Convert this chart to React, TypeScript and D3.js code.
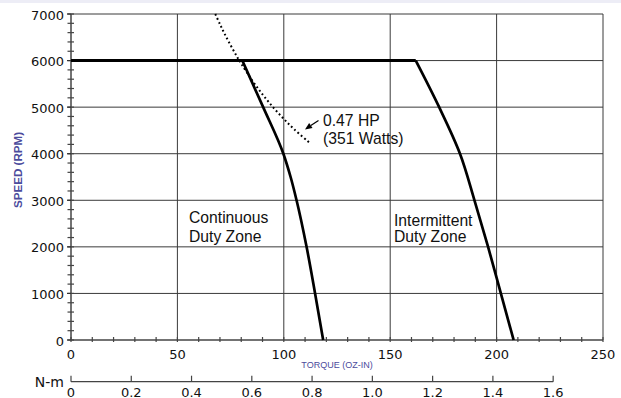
import React from "react";
import * as d3 from "d3";

// Axis ticks
const speedTicks = [0, 1000, 2000, 3000, 4000, 5000, 6000, 7000];
const torqueTicks = [0, 50, 100, 150, 200, 250];
const nmTicks = [0, 0.2, 0.4, 0.6, 0.8, 1.0, 1.2, 1.4, 1.6];
const nmTickLabels = ["0", "0.2", "0.4", "0.6", "0.8", "1.0", "1.2", "1.4", "1.6"];

// Speed limit line (oz-in, rpm)
const limitTorque = [0, 162];
const limitSpeed = [6000, 6000];

// Continuous duty boundary
const continuousTorque = [80.5, 90.3, 99.8, 103.2, 106, 110.7, 114.7, 118.5];
const continuousSpeed = [6000, 5000, 4000, 3500, 3000, 2000, 1000, 0];

// Intermittent duty boundary
const intermittentTorque = [162, 173, 182.8, 189.6, 196, 202, 208];
const intermittentSpeed = [6000, 5000, 4000, 3000, 2000, 1000, 0];

// Constant power curve, 0.47 HP (351 W)
const powerTorque = [67.8, 70, 72, 75, 78, 80, 85, 90, 95, 100, 105, 111.8];
const powerSpeed = [7000, 6781, 6592, 6329, 6085, 5933, 5584, 5274, 4996, 4747, 4520, 4246];

const OZIN_PER_NM = 141.612;

const W = 621;
const H = 398;

export default function App() {
  const x = d3.scaleLinear().domain([0, 250]).range([71, 603]);
  const y = d3.scaleLinear().domain([0, 7000]).range([340, 14]);
  const nm = d3
    .scaleLinear()
    .domain([0, 1.6])
    .range([x(0), x(1.6 * OZIN_PER_NM)]);

  const line = d3
    .line<[number, number]>()
    .x((d) => x(d[0]))
    .y((d) => y(d[1]));
  const smooth = d3
    .line<[number, number]>()
    .x((d) => x(d[0]))
    .y((d) => y(d[1]))
    .curve(d3.curveMonotoneY);
  const hyper = d3
    .line<[number, number]>()
    .x((d) => x(d[0]))
    .y((d) => y(d[1]))
    .curve(d3.curveCatmullRom);

  const zip = (a: number[], b: number[]) => a.map((v, i) => [v, b[i]] as [number, number]);

  const minorX = d3.range(0, 251, 10);
  const minorY = d3.range(0, 7001, 200);
  const nmY = 381.7;

  const numFont = "'DejaVu Sans', sans-serif";
  const noteFont = "'Liberation Sans', Arial, sans-serif";
  const grid = "#3a3a3a";
  const blue = "#4b4b9c";

  // arrow for the power annotation
  const tip = [305, 129.5];
  const tail = [318.5, 120.5];
  const ang = Math.atan2(tail[1] - tip[1], tail[0] - tip[0]);
  const ah = 7;
  const aw = 3;
  const bx = tip[0] + Math.cos(ang) * ah;
  const by = tip[1] + Math.sin(ang) * ah;
  const px = -Math.sin(ang) * aw;
  const py = Math.cos(ang) * aw;

  return (
    <svg
      width={W}
      height={H}
      style={{ position: "absolute", left: 0, top: 0, background: "#fff" }}
    >
      <rect x={0} y={0} width={W} height={3} fill="#ededf6" />

      {/* grid */}
      {torqueTicks.slice(1).map((t) => (
        <line key={"gx" + t} x1={x(t)} x2={x(t)} y1={y(7000)} y2={y(0)} stroke={grid} strokeWidth={1} />
      ))}
      {speedTicks.slice(1).map((s) => (
        <line key={"gy" + s} x1={x(0)} x2={x(250)} y1={y(s)} y2={y(s)} stroke={grid} strokeWidth={1} />
      ))}

      {/* y axis */}
      <line x1={x(0)} x2={x(0)} y1={y(0)} y2={y(7000)} stroke="#444" strokeWidth={1.5} />
      {minorY.map((s) => (
        <line key={"my" + s} x1={x(0) - 3.5} x2={x(0) + 3} y1={y(s)} y2={y(s)} stroke="#444" strokeWidth={1.2} />
      ))}
      {speedTicks.map((s) => (
        <g key={"ly" + s}>
          <line x1={x(0) - 4} x2={x(0)} y1={y(s)} y2={y(s)} stroke="#333" strokeWidth={1.2} />
          <text x={64} y={y(s) + 5.5} textAnchor="end" fontFamily={numFont} fontSize={13} fill="#111">
            {s}
          </text>
        </g>
      ))}

      {/* x axis (oz-in) */}
      <line x1={x(0)} x2={x(250)} y1={y(0)} y2={y(0)} stroke="#444" strokeWidth={1.5} />
      {minorX.map((t) => (
        <line key={"mx" + t} x1={x(t)} x2={x(t)} y1={y(0) - 3} y2={y(0) + 2} stroke="#444" strokeWidth={1.2} />
      ))}
      {torqueTicks.map((t) => (
        <text key={"lx" + t} x={x(t)} y={359} textAnchor="middle" fontFamily={numFont} fontSize={13} fill="#111">
          {t}
        </text>
      ))}

      {/* secondary axis (N-m) */}
      <line x1={nm(0)} x2={nm(1.6)} y1={nmY} y2={nmY} stroke="#444" strokeWidth={1.3} />
      {nmTicks.map((v, i) => (
        <g key={"nm" + i}>
          <line x1={nm(v)} x2={nm(v)} y1={nmY - 6} y2={nmY} stroke="#444" strokeWidth={1.2} />
          <text x={nm(v)} y={396.5} textAnchor="middle" fontFamily={numFont} fontSize={13} fill="#111">
            {nmTickLabels[i]}
          </text>
        </g>
      ))}
      <text x={64} y={387} textAnchor="end" fontFamily={numFont} fontSize={14} fill="#111">
        N-m
      </text>

      {/* axis titles */}
      <text
        x={337}
        y={367.5}
        textAnchor="middle"
        fontFamily={noteFont}
        fontSize={9}
        fill={blue}
      >
        TORQUE (OZ-IN)
      </text>
      <text
        transform={`translate(22,170) rotate(-90)`}
        textAnchor="middle"
        fontFamily={noteFont}
        fontSize={11}
        fontWeight="bold"
        fill={blue}
        textLength={76}
        lengthAdjust="spacingAndGlyphs"
      >
        SPEED (RPM)
      </text>

      {/* curves */}
      <path d={line(zip(limitTorque, limitSpeed)) || ""} fill="none" stroke="#000" strokeWidth={3} />
      <path
        d={smooth(zip(continuousTorque, continuousSpeed)) || ""}
        fill="none"
        stroke="#000"
        strokeWidth={2.7}
        strokeLinejoin="round"
      />
      <path
        d={smooth(zip(intermittentTorque, intermittentSpeed)) || ""}
        fill="none"
        stroke="#000"
        strokeWidth={2.7}
        strokeLinejoin="round"
      />
      <path
        d={hyper(zip(powerTorque, powerSpeed)) || ""}
        fill="none"
        stroke="#000"
        strokeWidth={2}
        strokeDasharray="1.8 2.6"
      />

      {/* power annotation */}
      <line x1={tail[0]} y1={tail[1]} x2={bx} y2={by} stroke="#000" strokeWidth={1.2} />
      <polygon points={`${tip[0]},${tip[1]} ${bx + px},${by + py} ${bx - px},${by - py}`} fill="#000" />
      <text x={323} y={126} fontFamily={noteFont} fontSize={15.7} fill="#111">
        0.47 HP
      </text>
      <text x={323} y={144} fontFamily={noteFont} fontSize={15.7} fill="#111">
        (351 Watts)
      </text>

      {/* zone labels */}
      <text fontFamily={noteFont} fontSize={15.7} fill="#111">
        <tspan x={189} y={223}>Continuous</tspan>
        <tspan x={189} y={241.5}>Duty Zone</tspan>
      </text>
      <text fontFamily={noteFont} fontSize={15.7} fill="#111">
        <tspan x={394} y={226}>Intermittent</tspan>
        <tspan x={394} y={241.5}>Duty Zone</tspan>
      </text>
    </svg>
  );
}
